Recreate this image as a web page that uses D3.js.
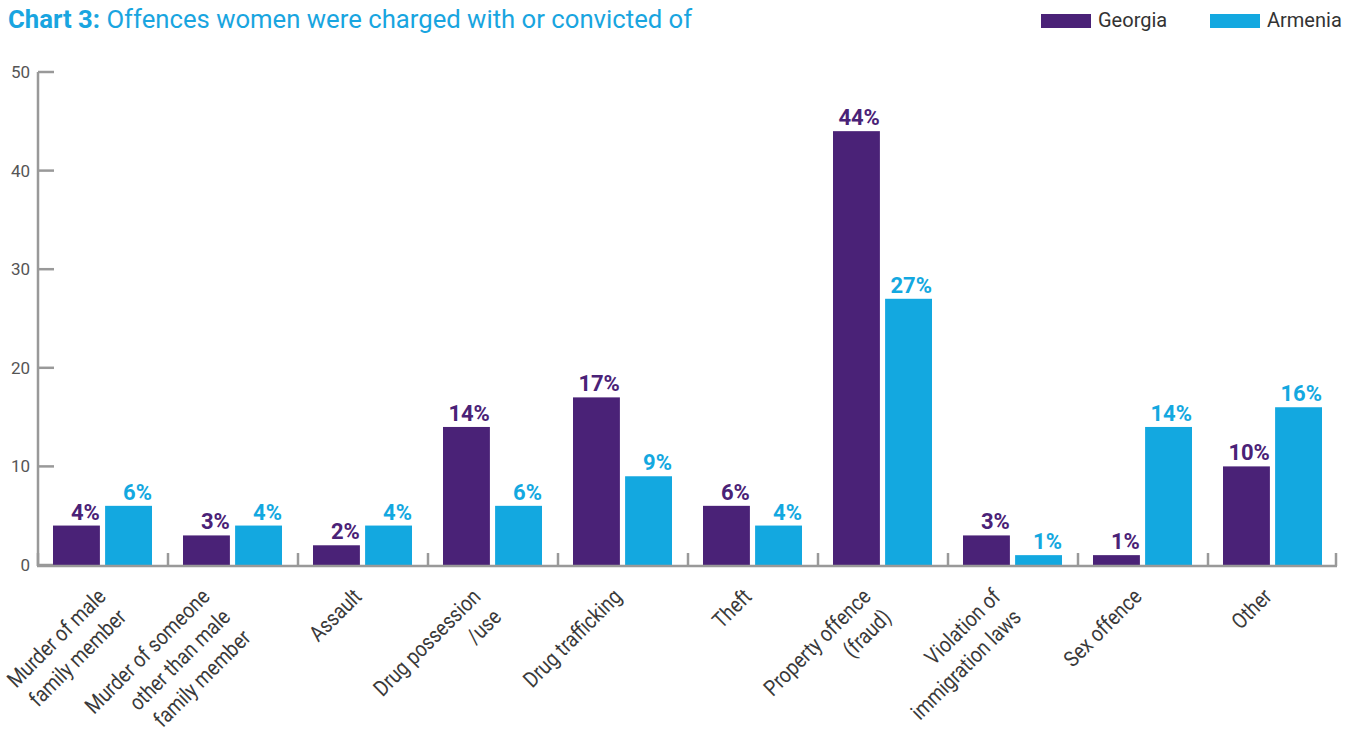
<!DOCTYPE html>
<html>
<head>
<meta charset="utf-8">
<script src="https://cdn.jsdelivr.net/npm/d3@7"></script>
<style>
  body { margin: 0; background: #fff; }
  svg { display: block; font-family: Roboto, "Liberation Sans", sans-serif; }
</style>
</head>
<body>
<svg width="1356" height="733"></svg>
<script>
const width = 1356, height = 733;
const svg = d3.select("svg");

// Data
const categories = [
  ["Murder of male", "family member"],
  ["Murder of someone", "other than male", "family member"],
  ["Assault"],
  ["Drug possession", "/use"],
  ["Drug trafficking"],
  ["Theft"],
  ["Property offence", "(fraud)"],
  ["Violation of", "immigration laws"],
  ["Sex offence"],
  ["Other"]
];
const seriesNames = ["Georgia", "Armenia"];
const georgia = [4, 3, 2, 14, 17, 6, 44, 3, 1, 10];
const armenia = [6, 4, 4, 6, 9, 4, 27, 1, 14, 16];
const yTicks = [0, 10, 20, 30, 40, 50];

const colors = { Georgia: "#4a2277", Armenia: "#13a8e0" };
const rows = categories.map((c, i) => ({ key: i, label: c, Georgia: georgia[i], Armenia: armenia[i] }));

// Scales
const x0 = d3.scaleBand().domain(rows.map(d => d.key)).range([38, 1338]).padding(0);
const x1 = d3.scaleBand().domain(seriesNames).range([15, 114]).paddingInner(0.1);
const y = d3.scaleLinear().domain([0, 50]).range([565, 72]);

const axisColor = "#999";

// Y axis
const gy = svg.append("g");
gy.append("line").attr("x1", 38).attr("x2", 38).attr("y1", y(50)).attr("y2", y(0) + 1)
  .attr("stroke", axisColor).attr("stroke-width", 2.5);
gy.selectAll("line.tick").data(yTicks).enter().append("line")
  .attr("class", "tick")
  .attr("x1", 38).attr("x2", 54)
  .attr("y1", d => y(d)).attr("y2", d => y(d))
  .attr("stroke", axisColor).attr("stroke-width", 2.5);
gy.selectAll("text").data(yTicks).enter().append("text")
  .attr("x", 30).attr("y", d => y(d))
  .attr("dy", "0.35em")
  .attr("text-anchor", "end")
  .attr("font-size", 17)
  .attr("fill", "#555")
  .text(d => d);

// Bars
const groups = svg.append("g").selectAll("g").data(rows).enter().append("g")
  .attr("transform", d => `translate(${x0(d.key)},0)`);

groups.selectAll("rect").data(d => seriesNames.map(s => ({ s, v: d[s] }))).enter().append("rect")
  .attr("x", d => x1(d.s))
  .attr("width", x1.bandwidth())
  .attr("y", d => y(d.v))
  .attr("height", d => y(0) - y(d.v))
  .attr("fill", d => colors[d.s]);

groups.selectAll("text.val").data(d => seriesNames.map(s => ({ s, v: d[s] }))).enter().append("text")
  .attr("class", "val")
  .attr("x", d => x1(d.s) + x1.bandwidth())
  .attr("y", d => y(d.v) - 6)
  .attr("text-anchor", "end")
  .attr("font-size", 22)
  .attr("font-weight", "bold")
  .attr("fill", d => colors[d.s])
  .text(d => d.v + "%");

// X axis
const gx = svg.append("g");
gx.append("line").attr("x1", 37).attr("x2", 1337).attr("y1", 566).attr("y2", 566)
  .attr("stroke", axisColor).attr("stroke-width", 2.5);
const bounds = rows.map(d => x0(d.key)).concat([x0.range()[1] - 2]);
gx.selectAll("line.tick").data(bounds).enter().append("line")
  .attr("class", "tick")
  .attr("x1", d => d).attr("x2", d => d)
  .attr("y1", 553).attr("y2", 566)
  .attr("stroke", axisColor).attr("stroke-width", 2.5);

// rotated, condensed category labels; multi-line blocks shifted left,
// but never so far that the first label runs off the left edge
const xl = gx.selectAll("text").data(rows).enter().append("text")
  .attr("transform", d => {
    const cx = Math.max(x0(d.key) + x0.bandwidth() / 2 - (d.label.length - 1) * 11, 107);
    return `translate(${cx},598) rotate(-45) scale(0.86,1)`;
  })
  .attr("text-anchor", "end")
  .attr("font-size", 22)
  .attr("fill", "#3a3a3a");
xl.selectAll("tspan").data(d => d.label).enter().append("tspan")
  .attr("x", 0)
  .attr("dy", (d, i) => i === 0 ? 0 : 29)
  .text(d => d);

// Title
const title = svg.append("text").attr("x", 8).attr("y", 28)
  .attr("font-size", 25.7).attr("fill", "#19a5e0");
title.append("tspan").attr("font-weight", "bold").text("Chart 3:");
title.append("tspan").text(" Offences women were charged with or convicted of");

// Legend
const legend = svg.append("g").selectAll("g").data(seriesNames).enter().append("g")
  .attr("transform", (d, i) => `translate(${1041 + i * 169},14)`);
legend.append("rect").attr("width", 50).attr("height", 14).attr("fill", d => colors[d]);
legend.append("text").attr("x", 57).attr("y", 13)
  .attr("font-size", 20).attr("fill", "#333").text(d => d);
</script>
</body>
</html>
